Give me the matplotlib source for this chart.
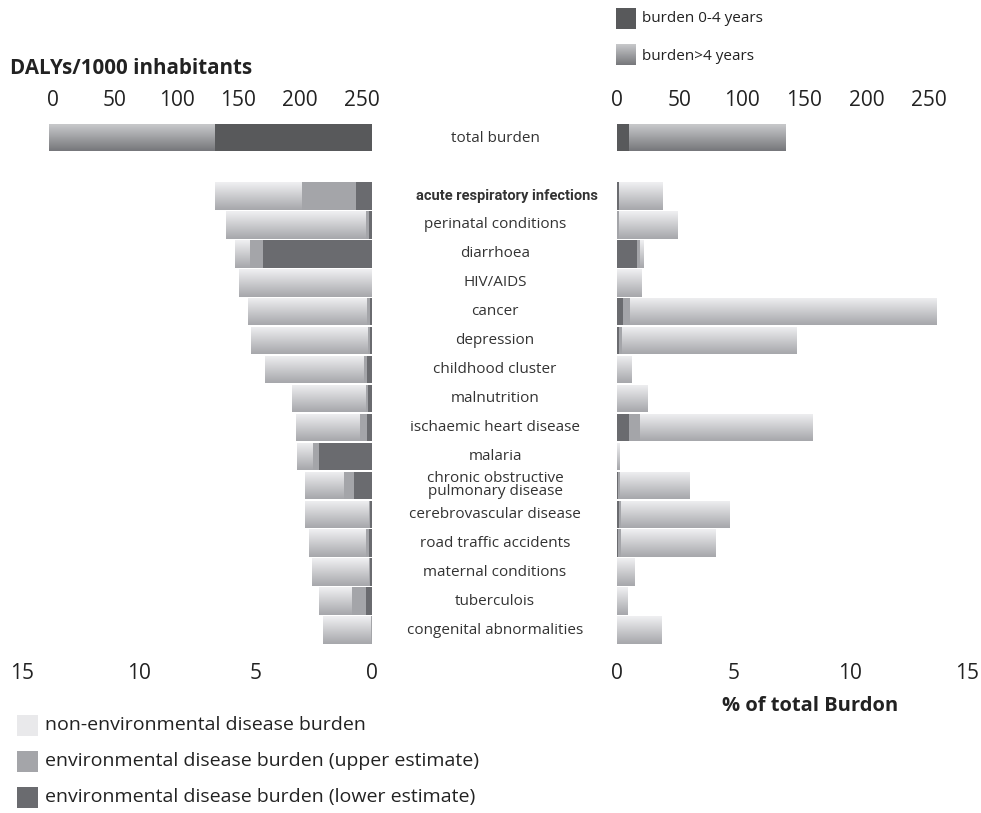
import matplotlib.pyplot as plt
import numpy as np
from matplotlib.colors import LinearSegmentedColormap
from matplotlib.transforms import blended_transform_factory

plt.rcParams['font.family'] = ['Open Sans', 'DejaVu Sans']

# ---- data -------------------------------------------------------------
diseases = ['acute respiratory infections', 'perinatal conditions', 'diarrhoea',
            'HIV/AIDS', 'cancer', 'depression', 'childhood cluster', 'malnutrition',
            'ischaemic heart disease', 'malaria',
            'chronic obstructive\npulmonary disease', 'cerebrovascular disease',
            'road traffic accidents', 'maternal conditions', 'tuberculois',
            'congenital abnormalities']

# left panel (% units): cumulative lower env., upper env., total
left_lower = [0.69, 0.13, 4.67, 0.0, 0.10, 0.07, 0.21, 0.17, 0.21, 2.27, 0.77, 0.10, 0.14, 0.07, 0.26, 0.0]
left_upper = [3.00, 0.27, 5.23, 0.0, 0.20, 0.17, 0.34, 0.26, 0.51, 2.53, 1.20, 0.13, 0.26, 0.13, 0.86, 0.04]
left_total = [6.73, 6.26, 5.87, 5.70, 5.31, 5.19, 4.59, 3.43, 3.26, 3.21, 2.87, 2.87, 2.70, 2.57, 2.27, 2.10]

# right panel (% of total burden)
right_lower = [0.10, 0.0, 0.86, 0.0, 0.26, 0.09, 0.0, 0.0, 0.51, 0.0, 0.06, 0.09, 0.06, 0.0, 0.0, 0.0]
right_upper = [0.10, 0.09, 0.97, 0.0, 0.56, 0.23, 0.0, 0.0, 0.99, 0.0, 0.13, 0.17, 0.17, 0.0, 0.0, 0.0]
right_total = [1.97, 2.61, 1.11, 1.07, 13.7, 7.70, 0.64, 1.29, 8.40, 0.09, 3.09, 4.80, 4.20, 0.77, 0.43, 1.89]

# total burden, DALYs/1000 inhabitants
left_young, left_old = 127, 134
right_young, right_old = 9.6, 125

pct_ticks = [0, 5, 10, 15]
daly_ticks = [0, 50, 100, 150, 200, 250]

# ---- styles -----------------------------------------------------------
DARK = '#6a6b6f'
MID = '#a4a5a9'
TOTDARK = '#58595b'
light_cmap = LinearSegmentedColormap.from_list('light', ['#f0f0f2', '#a6a7ab'])
tot_cmap = LinearSegmentedColormap.from_list('tot', ['#c8c9cb', '#76777b'])
grad = np.linspace(0, 1, 64).reshape(-1, 1)

W, H = 981, 813
fig = plt.figure(figsize=(W / 100, H / 100), dpi=100)


def box(x0, y0, x1, y1):
    # pixel box (top-left origin) -> figure fraction rect
    return [x0 / W, 1 - y1 / H, (x1 - x0) / W, (y1 - y0) / H]


def gradient_bar(ax, y, left, width, h, cmap):
    if width <= 0:
        return
    rect = ax.barh(y, width, left=left, height=h, color='none', lw=0)[0]
    im = ax.imshow(grad, cmap=cmap, aspect='auto', origin='upper',
                   extent=(left, left + width, y + h / 2, y - h / 2),
                   interpolation='bicubic', zorder=2)
    im.set_clip_path(rect)


def stacked(ax, lower, upper, total, h=0.95):
    for i in range(len(total)):
        if lower[i] > 0:
            ax.barh(i, lower[i], height=h, color=DARK, lw=0, zorder=3)
        if upper[i] > lower[i]:
            ax.barh(i, upper[i] - lower[i], left=lower[i], height=h,
                    color=MID, lw=0, zorder=3)
        gradient_bar(ax, i, upper[i], total[i] - upper[i], h, light_cmap)


def clean(ax):
    for s in ax.spines.values():
        s.set_visible(False)
    ax.set_yticks([])


# ---- main panels ------------------------------------------------------
ax_l = fig.add_axes(box(22, 181.5, 372, 644.5))
ax_r = fig.add_axes(box(617, 181.5, 967, 644.5))
stacked(ax_l, left_lower, left_upper, left_total)
stacked(ax_r, right_lower, right_upper, right_total)
ax_l.set_xlim(15, 0)
ax_r.set_xlim(0, 15)
for ax in (ax_l, ax_r):
    ax.set_ylim(len(diseases) - 0.5, -0.5)
    clean(ax)
    ax.set_xticks(pct_ticks)
    ax.tick_params(axis='x', length=0, labelsize=15, pad=13, colors='#222222')

# ---- total burden panels ---------------------------------------------
ax_lt = fig.add_axes(box(22, 124.5, 372, 151.5))
ax_rt = fig.add_axes(box(617, 124.5, 967, 151.5))
gradient_bar(ax_lt, 0.5, -3, left_old, 1, tot_cmap)
ax_lt.barh(0.5, left_young, left=left_old - 3, height=1, color=TOTDARK, lw=0, zorder=3)
ax_rt.barh(0.5, right_young, height=1, color=TOTDARK, lw=0, zorder=3)
gradient_bar(ax_rt, 0.5, right_young, right_old, 1, tot_cmap)
ax_lt.set_xlim(-25.1, 258.1)
ax_rt.set_xlim(0, 280.4)
for ax in (ax_lt, ax_rt):
    ax.set_ylim(1, 0)
    clean(ax)
    ax.set_xticks(daly_ticks)
    ax.xaxis.tick_top()
    ax.tick_params(axis='x', length=0, labelsize=15, pad=10, colors='#222222')

# ---- row labels -------------------------------------------------------
tr = blended_transform_factory(fig.transFigure, ax_l.transData)
for i, name in enumerate(diseases):
    if i == 0:
        fig.text(507 / W, i, name, transform=tr, ha='center', va='center',
                 fontsize=10.5, color='#333333', fontweight='bold',
                 family=['Roboto', 'DejaVu Sans'])
    else:
        fig.text(495 / W, i, name, transform=tr, ha='center', va='center',
                 fontsize=11, color='#333333', linespacing=0.8)
fig.text(495 / W, 1 - 138 / H, 'total burden', ha='center', va='center',
         fontsize=11, color='#333333')

# ---- titles -----------------------------------------------------------
fig.text(10 / W, 1 - 68 / H, 'DALYs/1000 inhabitants', ha='left', va='center',
         fontsize=14.8, fontweight='bold', color='#222222')
fig.text(810 / W, 1 - 706 / H, '% of total Burdon', ha='center', va='center',
         fontsize=14.5, fontweight='bold', color='#222222')

# ---- legends ----------------------------------------------------------
lg = fig.add_axes([0, 0, 1, 1], zorder=-1)
lg.set_xlim(0, W)
lg.set_ylim(H, 0)
lg.axis('off')

lg.add_patch(plt.Rectangle((616, 8), 20, 21, color=TOTDARK, lw=0))
lg.imshow(grad, cmap=tot_cmap, aspect='auto', origin='upper',
          extent=(616, 636, 65, 44), interpolation='bicubic')
lg.text(642, 19, 'burden 0-4 years', va='center', fontsize=11, color='#222222')
lg.text(642, 56, 'burden>4 years', va='center', fontsize=11, color='#222222')

legend_items = [('#e9e9eb', 'non-environmental disease burden'),
                (MID, 'environmental disease burden (upper estimate)'),
                (DARK, 'environmental disease burden (lower estimate)')]
for k, (c, txt) in enumerate(legend_items):
    yc = 725 + k * 36
    lg.add_patch(plt.Rectangle((17, yc - 10.5), 21, 21, color=c, lw=0))
    lg.text(45, yc, txt, va='center', fontsize=14, color='#222222')
lg.set_xlim(0, W)
lg.set_ylim(H, 0)

fig.savefig('out.png', dpi=100)
